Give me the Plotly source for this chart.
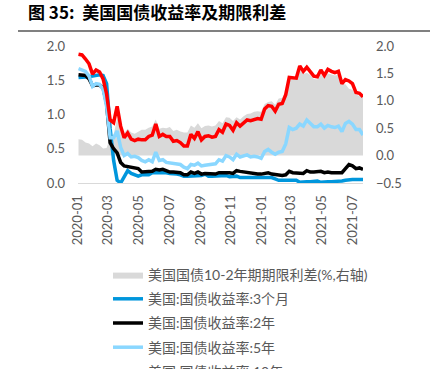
import pandas as pd
import plotly.graph_objects as go

# Weekly observations (Thursdays) from 2020-01-02 to 2021-07-22
dates = pd.date_range("2020-01-02", periods=82, freq="7D")

y10 = [1.88, 1.87, 1.81, 1.74, 1.59, 1.65, 1.62, 1.52, 1.30, 0.92,
       0.88, 1.12, 0.83, 0.66, 0.73, 0.64, 0.62, 0.64, 0.63, 0.63,
       0.68, 0.70, 0.86, 0.68, 0.71, 0.68, 0.68, 0.61, 0.62, 0.59,
       0.54, 0.54, 0.71, 0.65, 0.75, 0.63, 0.68, 0.69, 0.67, 0.68,
       0.78, 0.74, 0.86, 0.84, 0.77, 0.88, 0.83, 0.88, 0.92, 0.91,
       0.93, 0.94, 0.93, 1.08, 1.13, 1.12, 1.05, 1.15, 1.16, 1.29,
       1.54, 1.54, 1.53, 1.71, 1.63, 1.69, 1.63, 1.56, 1.55, 1.65,
       1.57, 1.66, 1.63, 1.61, 1.63, 1.45, 1.51, 1.49, 1.45, 1.32,
       1.31, 1.26]

y2 = [1.58, 1.58, 1.57, 1.52, 1.42, 1.43, 1.43, 1.39, 1.16, 0.59,
      0.50, 0.44, 0.30, 0.25, 0.24, 0.22, 0.22, 0.21, 0.16, 0.16,
      0.17, 0.17, 0.20, 0.19, 0.20, 0.18, 0.16, 0.16, 0.15, 0.15,
      0.12, 0.12, 0.16, 0.14, 0.16, 0.13, 0.14, 0.14, 0.14, 0.13,
      0.15, 0.15, 0.16, 0.15, 0.14, 0.18, 0.17, 0.16, 0.16, 0.14,
      0.13, 0.13, 0.13, 0.14, 0.15, 0.13, 0.12, 0.11, 0.11, 0.12,
      0.17, 0.15, 0.15, 0.15, 0.14, 0.18, 0.16, 0.16, 0.16, 0.17,
      0.15, 0.16, 0.15, 0.15, 0.16, 0.15, 0.21, 0.27, 0.25, 0.21,
      0.22, 0.20]

y5 = [1.67, 1.65, 1.63, 1.56, 1.41, 1.45, 1.44, 1.37, 1.12, 0.66,
      0.66, 0.76, 0.52, 0.40, 0.43, 0.38, 0.39, 0.37, 0.33, 0.31,
      0.34, 0.31, 0.45, 0.33, 0.34, 0.30, 0.29, 0.28, 0.28, 0.27,
      0.23, 0.21, 0.27, 0.26, 0.29, 0.25, 0.26, 0.27, 0.28, 0.28,
      0.34, 0.32, 0.40, 0.38, 0.34, 0.42, 0.38, 0.39, 0.41, 0.38,
      0.39, 0.38, 0.36, 0.46, 0.49, 0.45, 0.42, 0.45, 0.46, 0.57,
      0.81, 0.78, 0.80, 0.86, 0.83, 0.92, 0.87, 0.82, 0.82, 0.86,
      0.80, 0.84, 0.82, 0.81, 0.83, 0.75, 0.87, 0.90, 0.86, 0.78,
      0.78, 0.70]

m3 = [1.54, 1.54, 1.55, 1.55, 1.56, 1.57, 1.58, 1.57, 1.45, 0.80,
      0.33, 0.04, 0.00, 0.09, 0.18, 0.14, 0.12, 0.10, 0.12, 0.12,
      0.12, 0.15, 0.15, 0.16, 0.16, 0.15, 0.14, 0.14, 0.13, 0.12,
      0.10, 0.10, 0.10, 0.11, 0.11, 0.11, 0.13, 0.10, 0.10, 0.10,
      0.10, 0.11, 0.11, 0.09, 0.10, 0.10, 0.08, 0.08, 0.08, 0.08,
      0.09, 0.09, 0.09, 0.09, 0.09, 0.08, 0.06, 0.04, 0.04, 0.04,
      0.04, 0.04, 0.04, 0.01, 0.02, 0.02, 0.02, 0.03, 0.03, 0.01,
      0.02, 0.02, 0.02, 0.02, 0.02, 0.03, 0.04, 0.05, 0.05, 0.05,
      0.05, 0.05]

spread = [0.30, 0.29, 0.24, 0.22, 0.17, 0.22, 0.19, 0.13, 0.14, 0.33,
          0.38, 0.68, 0.53, 0.41, 0.49, 0.42, 0.40, 0.43, 0.47, 0.47,
          0.51, 0.53, 0.66, 0.49, 0.51, 0.50, 0.52, 0.45, 0.47, 0.44,
          0.42, 0.42, 0.55, 0.51, 0.59, 0.50, 0.54, 0.55, 0.53, 0.55,
          0.63, 0.59, 0.70, 0.69, 0.63, 0.70, 0.66, 0.72, 0.76, 0.77,
          0.80, 0.81, 0.80, 0.94, 0.98, 0.99, 0.93, 1.04, 1.05, 1.17,
          1.37, 1.39, 1.38, 1.56, 1.49, 1.51, 1.47, 1.40, 1.39, 1.48,
          1.42, 1.50, 1.48, 1.46, 1.47, 1.30, 1.30, 1.22, 1.20, 1.11,
          1.09, 1.06]

names = ["美国国债10-2年期期限利差(%,右轴)", "美国:国债收益率:3个月",
         "美国:国债收益率:2年", "美国:国债收益率:5年", "美国:国债收益率:10年"]
tick_vals = pd.date_range("2020-01-01", "2021-07-01", freq="2MS")
tick_text = [d.strftime("%Y-%m") for d in tick_vals]

W, H = 430, 369
L, R, T, B = 78, 67, 46, 186
FONT = "Lato, Noto Sans CJK SC, sans-serif"
GREY = "#595959"

fig = go.Figure()
fig.add_trace(go.Scatter(x=dates, y=spread, name=names[0], yaxis="y",
                         mode="lines", line=dict(width=0, color="#D9D9D9"),
                         fill="tozeroy", fillcolor="#D9D9D9", legendgroup="a"))
colors = ["#0096DC", "#000000", "#8AD7FF", "#FF0000"]
for nm, ys, c, g in zip(names[1:], [m3, y2, y5, y10], colors, "bcde"):
    fig.add_trace(go.Scatter(x=dates, y=ys, name=nm, yaxis="y2", mode="lines",
                             line=dict(width=3.5, color=c), legendgroup=g))

fig.update_layout(
    width=W, height=H, margin=dict(l=L, r=R, t=T, b=B, autoexpand=False),
    paper_bgcolor="white", plot_bgcolor="white",
    font=dict(family=FONT, size=12, color=GREY),
    title=dict(text="<b>图 35:  美国国债收益率及期限利差</b>", x=28 / W, xanchor="left",
               xref="container", y=1 - 13 / H, yanchor="middle",
               font=dict(size=17, color="black", family="Noto Sans CJK SC")),
    xaxis=dict(type="date", range=["2020-01-01", dates[-1]], tickvals=tick_vals,
               ticktext=tick_text, tickangle=-90, showgrid=False, showline=True,
               linecolor="#D9D9D9", linewidth=1, ticks="", zeroline=False,
               tickfont=dict(size=13, color=GREY), ticklabelstandoff=6),
    yaxis=dict(side="right", range=[-0.5, 2.0], dtick=0.5, tickformat=".1f",
               showgrid=False, zeroline=False, ticks="", showline=False,
               tickfont=dict(size=13, color=GREY), ticklabelstandoff=12),
    yaxis2=dict(side="left", overlaying="y", range=[0, 2.0], dtick=0.5,
                tickformat=".1f", showgrid=False, zeroline=False, ticks="",
                showline=False, tickfont=dict(size=13, color=GREY),
                ticklabelstandoff=12),
    legend=dict(orientation="v", xref="container", yref="container",
                x=108 / W, xanchor="left", y=1 - 259 / H, yanchor="top",
                font=dict(size=14, color=GREY), tracegroupgap=3,
                bgcolor="rgba(0,0,0,0)", itemwidth=30),
    showlegend=True,
)
fig.add_shape(type="line", xref="paper", yref="paper",
              x0=(18 - L) / (W - L - R), x1=(W - L) / (W - L - R),
              y0=(H - B - 31) / (H - T - B), y1=(H - B - 31) / (H - T - B),
              line=dict(color="#808080", width=2))

fig.write_html("out.html", config={"displayModeBar": False},
               post_script="document.body.style.margin='0';"
                           "document.body.style.overflow='hidden';")
